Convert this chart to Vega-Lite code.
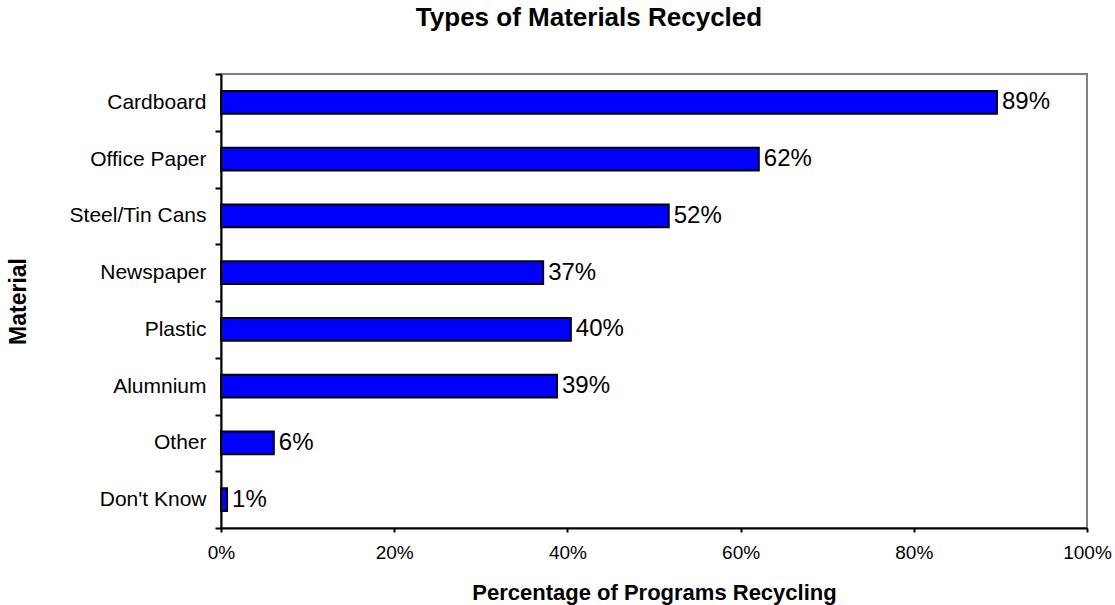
{
  "$schema": "https://vega.github.io/schema/vega-lite/v6.json",
  "autosize": "none",
  "width": 866,
  "height": 454,
  "padding": {"left": 221, "top": 74, "right": 28, "bottom": 77},
  "background": "white",
  "config": {
    "font": "Liberation Sans",
    "view": {"stroke": "#808080", "strokeWidth": 2}
  },
  "title": {
    "text": "Types of Materials Recycled",
    "fontSize": 26,
    "fontWeight": "bold",
    "font": "Liberation Sans",
    "color": "black",
    "anchor": "middle",
    "dx": -65,
    "offset": 32
  },
  "data": {
    "values": [
      {"material": "Cardboard", "share": 0.896, "label": "89%"},
      {"material": "Office Paper", "share": 0.621, "label": "62%"},
      {"material": "Steel/Tin Cans", "share": 0.517, "label": "52%"},
      {"material": "Newspaper", "share": 0.372, "label": "37%"},
      {"material": "Plastic", "share": 0.404, "label": "40%"},
      {"material": "Alumnium", "share": 0.388, "label": "39%"},
      {"material": "Other", "share": 0.061, "label": "6%"},
      {"material": "Don't Know", "share": 0.007, "label": "1%"}
    ]
  },
  "encoding": {
    "y": {
      "field": "material",
      "type": "nominal",
      "sort": null,
      "scale": {"paddingInner": 0, "paddingOuter": 0},
      "axis": {
        "title": "Material",
        "titleFontSize": 23,
        "titleFontWeight": "bold",
        "titleColor": "black",
        "titleX": -203,
        "titleAngle": -90,
        "titleAlign": "center",
        "titleBaseline": "middle",
        "labelFontSize": 21,
        "labelColor": "black",
        "labelPadding": 9,
        "tickBand": "extent",
        "tickSize": 6,
        "tickColor": "black",
        "tickWidth": 2,
        "domainColor": "black",
        "domainWidth": 2
      }
    },
    "x": {
      "field": "share",
      "type": "quantitative",
      "scale": {"domain": [0, 1], "nice": false},
      "axis": {
        "title": "Percentage of Programs Recycling",
        "titleFontSize": 22,
        "titleFontWeight": "bold",
        "titleColor": "black",
        "titleY": 64,
        "titleBaseline": "middle",
        "format": ".0%",
        "values": [0, 0.2, 0.4, 0.6, 0.8, 1.0],
        "labelFontSize": 19,
        "labelColor": "black",
        "labelPadding": 11,
        "labelFlush": false,
        "tickSize": 4,
        "tickColor": "black",
        "tickWidth": 2,
        "domainColor": "black",
        "domainWidth": 2,
        "grid": false
      }
    }
  },
  "layer": [
    {
      "mark": {"type": "bar", "color": "#0000FF", "stroke": "black", "strokeWidth": 2, "height": {"band": 0.4}}
    },
    {
      "mark": {"type": "text", "align": "left", "baseline": "middle", "dx": 5, "fontSize": 24, "color": "black", "font": "Liberation Sans"},
      "encoding": {"text": {"field": "label"}}
    }
  ]
}
